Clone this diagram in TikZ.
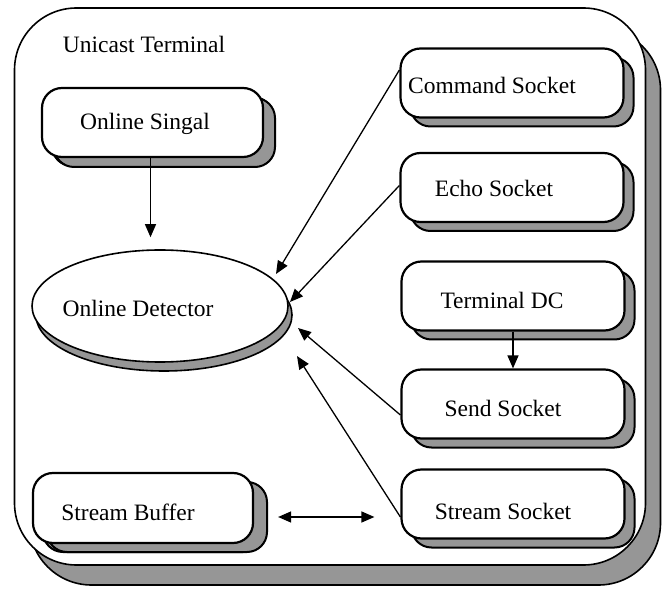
\documentclass[tikz,border=0pt]{standalone}
\usepackage{fontspec}
\setmainfont{Liberation Serif}
\usetikzlibrary{shapes.geometric,shadows,arrows.meta}
\definecolor{shadowgray}{RGB}{150,150,150}
\tikzset{
  box/.style={draw=black, line width=2.2pt, fill=white, rounded corners=20pt,
    minimum width=223pt, minimum height=69pt, inner sep=0pt,
    general shadow={shadow xshift=10pt, shadow yshift=-9pt, fill=shadowgray, draw=black, line width=2pt}},
  lbl/.style={anchor=base, inner sep=0pt, font=\fontsize{23.5}{26}\selectfont},
  arr/.style={line width=1.3pt, -{Triangle[length=13pt,width=11pt]}},
  darr/.style={line width=1.3pt, {Triangle[length=13pt,width=11pt]}-{Triangle[length=13pt,width=11pt]}},
}
\begin{document}
\begin{tikzpicture}[x=1pt,y=-1pt]
\useasboundingbox (0,0) rectangle (664,593);
% outer container
\node[draw=black, line width=1.6pt, fill=white, rounded corners=62pt,
  minimum width=631pt, minimum height=557pt, inner sep=0pt,
  general shadow={shadow xshift=15pt, shadow yshift=-20pt, fill=shadowgray, draw=black, line width=1.6pt}]
  (ut) at (330,286.5) {};
\node[lbl] (utl) at (144,53) {Unicast Terminal};
% boxes
\node[box, minimum width=221pt, general shadow={shadow xshift=12pt, shadow yshift=-10pt, fill=shadowgray, draw=black, line width=2pt}] (os) at (152.5,122.5) {};
\node[lbl] (osl) at (145,130) {Online Singal};
\node[ellipse, draw=black, line width=1.6pt, fill=white, minimum width=256pt, minimum height=112pt, inner sep=0pt,
  general shadow={shadow xshift=4pt, shadow yshift=-9pt, fill=shadowgray, draw=black, line width=1.6pt}]
  (od) at (160,306) {};
\node[lbl] (odl) at (138,317) {Online Detector};
\node[box] (cs) at (512,83) {};
\node[lbl] (csl) at (492,94) {Command Socket};
\node[box] (es) at (512,187.5) {};
\node[lbl] (esl) at (494,197) {Echo Socket};
\node[box] (tdc) at (513,296) {};
\node[lbl] (tdcl) at (502,309) {Terminal DC};
\node[box] (ss) at (513,404) {};
\node[lbl] (ssl) at (503,417) {Send Socket};
\node[box] (sts) at (513,504) {};
\node[lbl] (stsl) at (503,519) {Stream Socket};
\node[box, minimum width=220pt, minimum height=70pt, general shadow={shadow xshift=14pt, shadow yshift=-9pt, fill=shadowgray, draw=black, line width=2pt}] (sb) at (143,508) {};
\node[lbl] (sbl) at (128,520) {Stream Buffer};
% arrow target points near the detector
\coordinate (t1) at ([shift={(116,-32)}]od.center);
\coordinate (t2) at ([shift={(130,-4)}]od.center);
\coordinate (t3) at ([shift={(138,22)}]od.center);
\coordinate (t4) at ([shift={(137,50)}]od.center);
% connectors
\draw[arr, shorten >=12pt] ([xshift=-2pt]os.south) -- ([xshift=-2pt]os.south |- od.north);
\draw[arr] ([yshift=13pt]cs.west) -- (t1);
\draw[arr] ([yshift=2pt]es.west) -- (t2);
\draw[arr] ([yshift=-11pt]ss.west) -- (t3);
\draw[arr] ([yshift=-13pt]sts.west) -- (t4);
\draw[arr] (tdc.south) -- (ss.north);
\draw[darr] ([shift={(24,9)}]sb.east) -- ([shift={(-26,13)}]sts.west);
\end{tikzpicture}
\end{document}
